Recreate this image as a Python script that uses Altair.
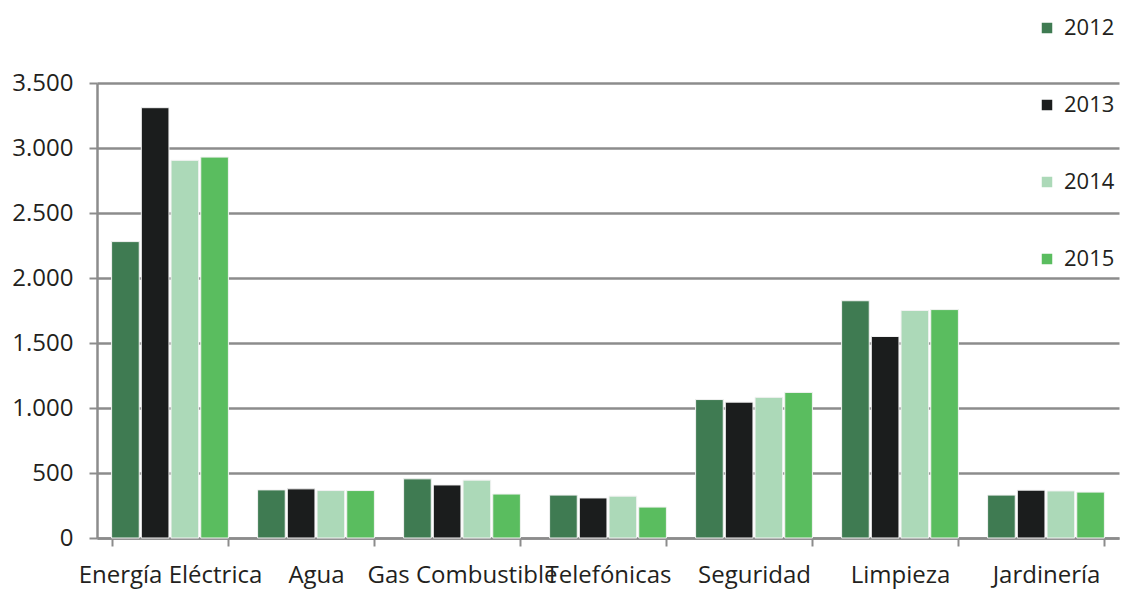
import altair as alt
import pandas as pd

categories = ["Energía Eléctrica", "Agua", "Gas Combustible", "Telefónicas",
              "Seguridad", "Limpieza", "Jardinería"]
years = ["2012", "2013", "2014", "2015"]
v2012 = [2280, 370, 455, 330, 1065, 1825, 330]
v2013 = [3310, 378, 408, 308, 1045, 1550, 368]
v2014 = [2905, 365, 445, 322, 1082, 1750, 362]
v2015 = [2930, 365, 338, 238, 1120, 1757, 353]
colors = ["#3f7b52", "#1b1d1d", "#acd9b8", "#5abd5f"]

rows = []
for yr, vals in zip(years, [v2012, v2013, v2014, v2015]):
    for c, v in zip(categories, vals):
        rows.append({"categoria": c, "anio": yr, "valor": v})
df = pd.DataFrame(rows)

FONT = "Open Sans"
GRID = "#8c8c8c"
TXT = "#231f20"

chart = alt.Chart(df).mark_bar(stroke="#f2f2f2", strokeWidth=1).encode(
    x=alt.X("categoria:N", sort=categories, title=None,
            scale=alt.Scale(paddingInner=0.2, paddingOuter=0.1),
            axis=alt.Axis(labelAngle=0, labelOverlap=False, labelLimit=0,
                          labelFontSize=24, labelFont=FONT, labelColor=TXT,
                          labelPadding=17, tickBand="extent", tickSize=8,
                          tickColor=GRID, tickWidth=2, domainColor=GRID,
                          domainWidth=2.5, grid=False)),
    xOffset=alt.XOffset("anio:N", sort=years,
                        scale=alt.Scale(paddingInner=0.07)),
    y=alt.Y("valor:Q", title=None,
            scale=alt.Scale(domain=[0, 3500], nice=False),
            axis=alt.Axis(values=[0, 500, 1000, 1500, 2000, 2500, 3000, 3500],
                          labelExpr="replace(format(datum.value, ',d'), ',', '.')",
                          labelFontSize=24, labelFont=FONT, labelColor=TXT,
                          labelPadding=16, tickSize=8, tickColor=GRID, tickWidth=2,
                          domainColor=GRID, domainWidth=2.5,
                          grid=True, gridColor=GRID, gridWidth=2.5)),
    color=alt.Color("anio:N", sort=years, title=None,
                    scale=alt.Scale(domain=years, range=colors),
                    legend=alt.Legend(orient="none", legendX=939, legendY=-66,
                                      symbolType="square", symbolSize=110,
                                      symbolStrokeWidth=0,
                                      labelFontSize=22, labelFont=FONT,
                                      labelColor=TXT, labelOffset=6,
                                      rowPadding=55)),
).properties(
    width=1022, height=455,
    autosize=alt.AutoSizeParams(type="none"),
    padding={"left": 89, "top": 75, "right": 3, "bottom": 54},
).configure_view(stroke=None)

chart.save("out.html", embed_options={"renderer": "svg", "actions": False})
